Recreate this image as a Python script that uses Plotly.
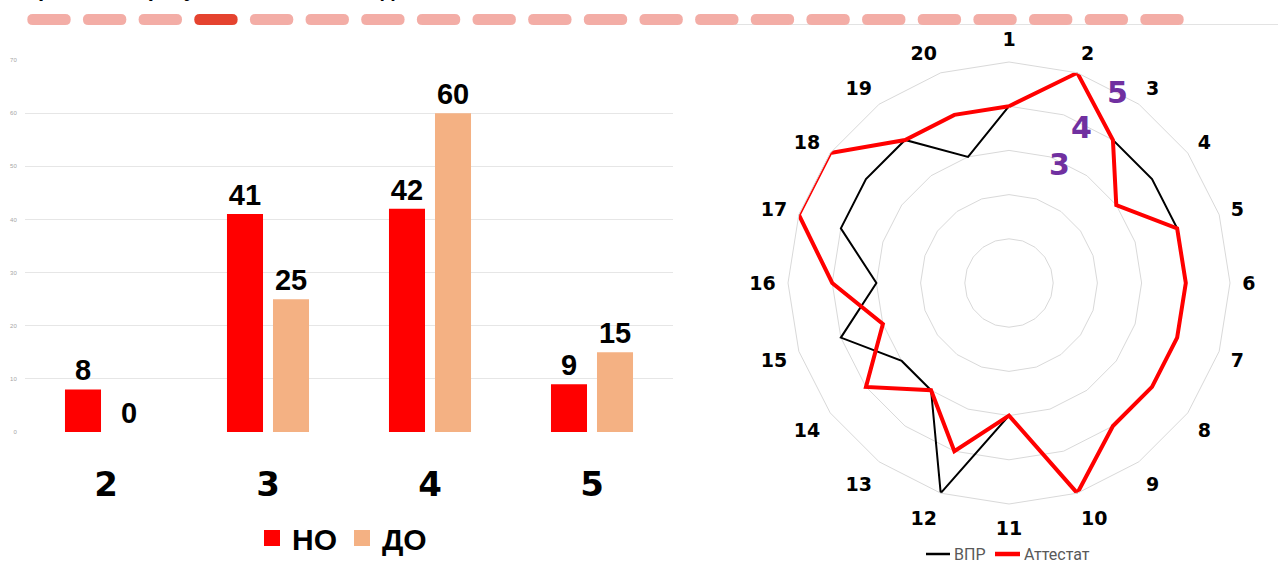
import plotly.graph_objects as go

# ---------------- data ----------------
grade_categories = ["2", "3", "4", "5"]
no_values = [8, 41, 42, 9]        # НО
do_values = [0, 25, 60, 15]       # ДО
bar_names = ["НО", "ДО"]

task_labels = [str(i) for i in range(1, 21)]
vpr_values = [4, 5, 4, 4, 4, 4, 4, 4, 4, 5, 3, 5, 3, 3, 4, 3, 4, 4, 4, 3]
attestat_values = [4, 5, 4, 3, 4, 4, 4, 4, 4, 5, 3, 4, 3, 4, 3, 4, 5, 5, 4, 4]
radar_names = ["ВПР", "Аттестат"]
radar_colors = ["black", "#FF0000"]
radar_widths = [2, 4]
ring_values = [1, 2, 3, 4, 5]
ring_labels = ["3", "4", "5"]

W, H = 1278, 564
def px(x):
    return x / W
def py(y):
    return 1 - y / H

RED = "#FF0000"
PEACH = "#F4B183"
NARROW = "Liberation Sans Narrow, Arial Narrow, Liberation Sans, Arial, sans-serif"
SANS = "Liberation Sans, Arial, sans-serif"
WIDE = "DejaVu Sans, Verdana, sans-serif"

fig = go.Figure()

# ---------------- bar chart ----------------
fig.add_trace(go.Bar(
    x=grade_categories, y=no_values, name=bar_names[0],
    marker=dict(color=RED, line=dict(width=0)),
    text=[str(v) for v in no_values], textposition="outside",
    textfont=dict(family=NARROW, size=29, color="black", weight="bold"),
    cliponaxis=False, showlegend=False,
))
fig.add_trace(go.Bar(
    x=grade_categories, y=do_values, name=bar_names[1],
    marker=dict(color=PEACH, line=dict(width=0)),
    text=[str(v) for v in do_values], textposition="outside",
    textfont=dict(family=NARROW, size=29, color="black", weight="bold"),
    cliponaxis=False, showlegend=False,
))
# legend entries (larger square swatches)
for nm, col in zip(bar_names, [RED, PEACH]):
    fig.add_trace(go.Scatter(
        x=[None], y=[None], mode="markers", name=nm,
        marker=dict(symbol="square", size=19, color=col),
        showlegend=True,
    ))

# ---------------- radar chart ----------------
radar_series = [vpr_values, attestat_values]
for nm, vals, col, lw in zip(radar_names, radar_series, radar_colors, radar_widths):
    fig.add_trace(go.Scatterpolar(
        r=vals + vals[:1], theta=task_labels + task_labels[:1],
        mode="lines", name=nm, line=dict(color=col, width=lw),
        showlegend=False,
    ))

# ---------------- decorative top strip ----------------
shapes = []
n_dash = 21
for i in range(n_dash):
    x0 = 27.3 + 55.65 * i
    x1 = x0 + 43.4
    y0, y1 = 14.0, 25.0
    r = 5.5
    yc = (y0 + y1) / 2
    path = (f"M {px(x0 + r)},{py(y0)} L {px(x1 - r)},{py(y0)} "
            f"Q {px(x1)},{py(y0)} {px(x1)},{py(yc)} "
            f"Q {px(x1)},{py(y1)} {px(x1 - r)},{py(y1)} "
            f"L {px(x0 + r)},{py(y1)} "
            f"Q {px(x0)},{py(y1)} {px(x0)},{py(yc)} "
            f"Q {px(x0)},{py(y0)} {px(x0 + r)},{py(y0)} Z")
    shapes.append(dict(type="path", xref="paper", yref="paper", path=path,
                       fillcolor="#E5432F" if i == 3 else "#F3ADA6",
                       line=dict(width=0), layer="above"))
shapes.insert(0, dict(type="line", xref="paper", yref="paper",
                      x0=px(735), x1=1, y0=py(24.5), y1=py(24.5),
                      line=dict(color="#E3E3E3", width=1), layer="below"))

annotations = [
    dict(text="Сравнение результатов ВПР с годовыми отметками",
         xref="paper", yref="paper", x=px(20), y=py(3.5), xanchor="left",
         yanchor="bottom", showarrow=False,
         font=dict(family=SANS, size=22, color="black", weight="bold")),
]
ring_label_pos = [(1059, 164), (1081, 127), (1117, 92)]
for lab, (lx, ly) in zip(ring_labels, ring_label_pos):
    annotations.append(dict(text=lab, xref="paper", yref="paper",
                            x=px(lx), y=py(ly), xanchor="center", yanchor="middle",
                            showarrow=False,
                            font=dict(family=WIDE, size=30, color="#7030A0", weight="bold")))

# radar legend (line swatch + label), drawn below the radar
LEG_Y = 554
leg_items = [(926, 950, 952), (995, 1020, 1022)]
for nm, col, lw, (lx0, lx1, tx) in zip(radar_names, radar_colors, radar_widths, leg_items):
    shapes.append(dict(type="line", xref="paper", yref="paper",
                       x0=px(lx0), x1=px(lx1), y0=py(LEG_Y), y1=py(LEG_Y),
                       line=dict(color=col, width=lw + 0.5)))
    annotations.append(dict(text=nm, xref="paper", yref="paper",
                            x=px(tx), y=py(LEG_Y), xanchor="left", yanchor="middle",
                            showarrow=False,
                            font=dict(family="Roboto, Liberation Sans, Arial, sans-serif",
                                      size=16, color="#595959")))

R = 221
CX, CY = 1009, 283

fig.update_layout(
    width=W, height=H,
    margin=dict(l=0, r=0, t=0, b=0),
    paper_bgcolor="white", plot_bgcolor="white",
    barmode="group", bargap=0.432, bargroupgap=0.217,
    xaxis=dict(domain=[px(25), px(673)], showgrid=False, zeroline=False, showline=False,
               ticks="outside", ticklen=22, tickcolor="rgba(0,0,0,0)",
               tickfont=dict(family=WIDE, size=34, color="black", weight="bold"),
               fixedrange=True, automargin=False),
    yaxis=dict(domain=[py(432), py(60)], range=[0, 70], dtick=10,
               showgrid=True, gridcolor="#E6E6E6", gridwidth=1,
               zeroline=False, showline=False, automargin=False,
               ticks="outside", ticklen=6, tickcolor="rgba(0,0,0,0)",
               tickfont=dict(family=SANS, size=6, color="#A6A6A6")),
    polar=dict(
        domain=dict(x=[px(CX - R), px(CX + R)], y=[py(CY + R), py(CY - R)]),
        bgcolor="white", gridshape="linear",
        radialaxis=dict(range=[0, 5], tickvals=ring_values, showticklabels=False,
                        ticks="", showline=False, gridcolor="#D9D9D9", gridwidth=1),
        angularaxis=dict(rotation=90, direction="clockwise", showgrid=False,
                         linecolor="#D9D9D9", linewidth=1,
                         ticks="outside", ticklen=8, tickcolor="rgba(0,0,0,0)",
                         tickfont=dict(family=WIDE, size=19, color="black", weight="bold")),
    ),
    legend=dict(orientation="h", x=px(342), y=py(538), xanchor="center", yanchor="middle",
                font=dict(family=SANS, size=30, color="black", weight="bold"),
                bgcolor="rgba(0,0,0,0)", itemwidth=30, tracegroupgap=0),
    shapes=shapes,
    annotations=annotations,
)

fig.write_html("out.html", config={"displayModeBar": False},
               post_script="document.body.style.margin='0';")
